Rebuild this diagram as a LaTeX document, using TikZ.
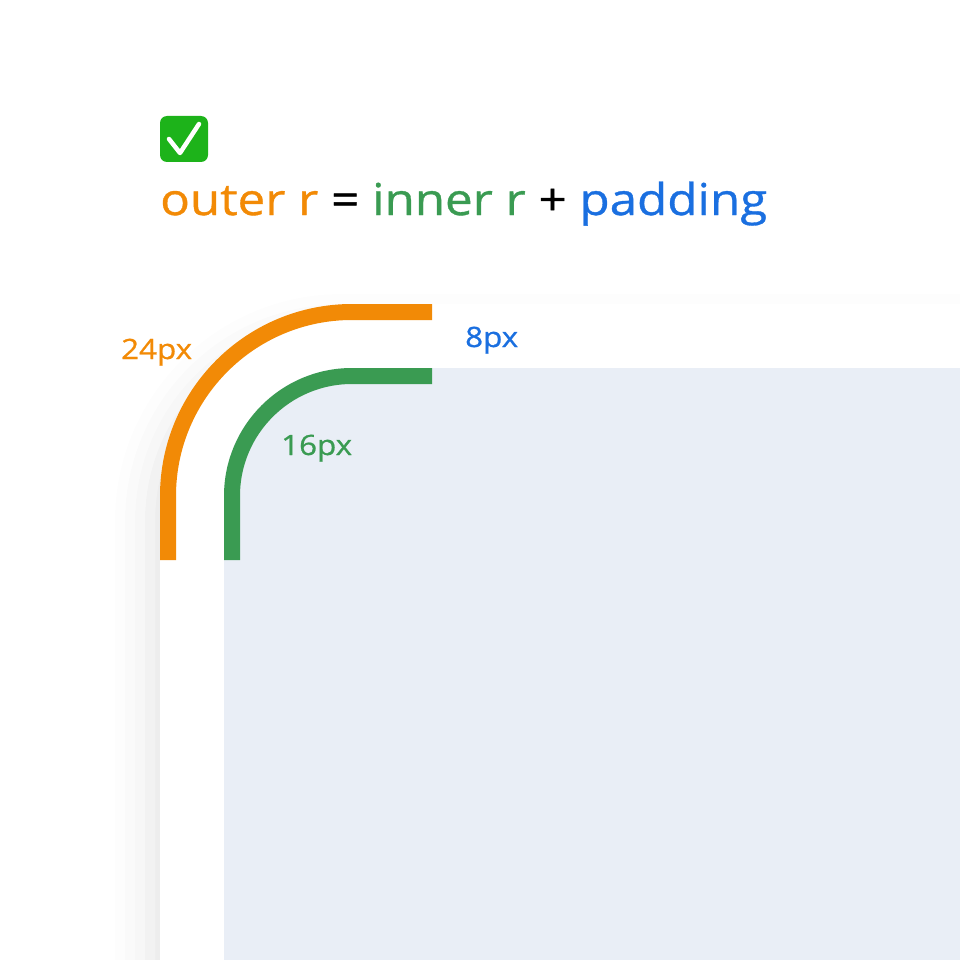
\documentclass[tikz,border=0pt]{standalone}
\usepackage{fontspec}
\setmainfont{Open Sans}[FakeStretch=1.12, FakeBold=0.8]
\usetikzlibrary{shadows.blur}
\definecolor{outerc}{HTML}{F28A06}
\definecolor{innerc}{HTML}{3A9B52}
\definecolor{padc}{HTML}{1A6FE0}
\definecolor{panelc}{HTML}{E9EEF6}
\definecolor{checkc}{HTML}{1DB31A}
\tikzset{
  radius line/.style={line width=16pt},
  size label/.style={font=\fontsize{28}{28}\selectfont, inner sep=0pt, anchor=base west},
}
\begin{document}
\begin{tikzpicture}[x=1pt,y=-1pt]
  \useasboundingbox (0,0) rectangle (960,960);
  % card and panel
  \fill[white, blur shadow={shadow xshift=-10pt, shadow yshift=-25pt, shadow blur radius=35pt, shadow opacity=10}]
    (160,980) -- (160,496) arc (180:270:192) -- (980,304) -- (980,980) -- cycle;
  \fill[panelc] (224,960) -- (224,496) arc (180:270:128) -- (960,368) -- (960,960) -- cycle;
  % radius strokes
  \draw[radius line, outerc] (168,560) -- (168,496) arc (180:270:184) -- (432,312);
  \draw[radius line, innerc] (232,560) -- (232,496) arc (180:270:120) -- (432,376);
  % check mark
  \fill[checkc, rounded corners=7pt] (160,116) rectangle (208,162);
  \draw[white, line width=4.5pt, line cap=round, line join=round] (169,139) -- (180,153) -- (199,124);
  % formula
  \node[anchor=base west, inner sep=0pt, font=\fontsize{44}{44}\selectfont] (formula) at (160,215)
    {\textcolor{outerc}{outer r} = \textcolor{innerc}{inner r} + \textcolor{padc}{padding}};
  % labels
  \node[size label, text=outerc] (outerlbl) at (121,359) {24px};
  \node[size label, text=padc] (padlbl) at (465,347) {8px};
  \node[size label, text=innerc] (innerlbl) at (281,455) {16px};
\end{tikzpicture}
\end{document}
